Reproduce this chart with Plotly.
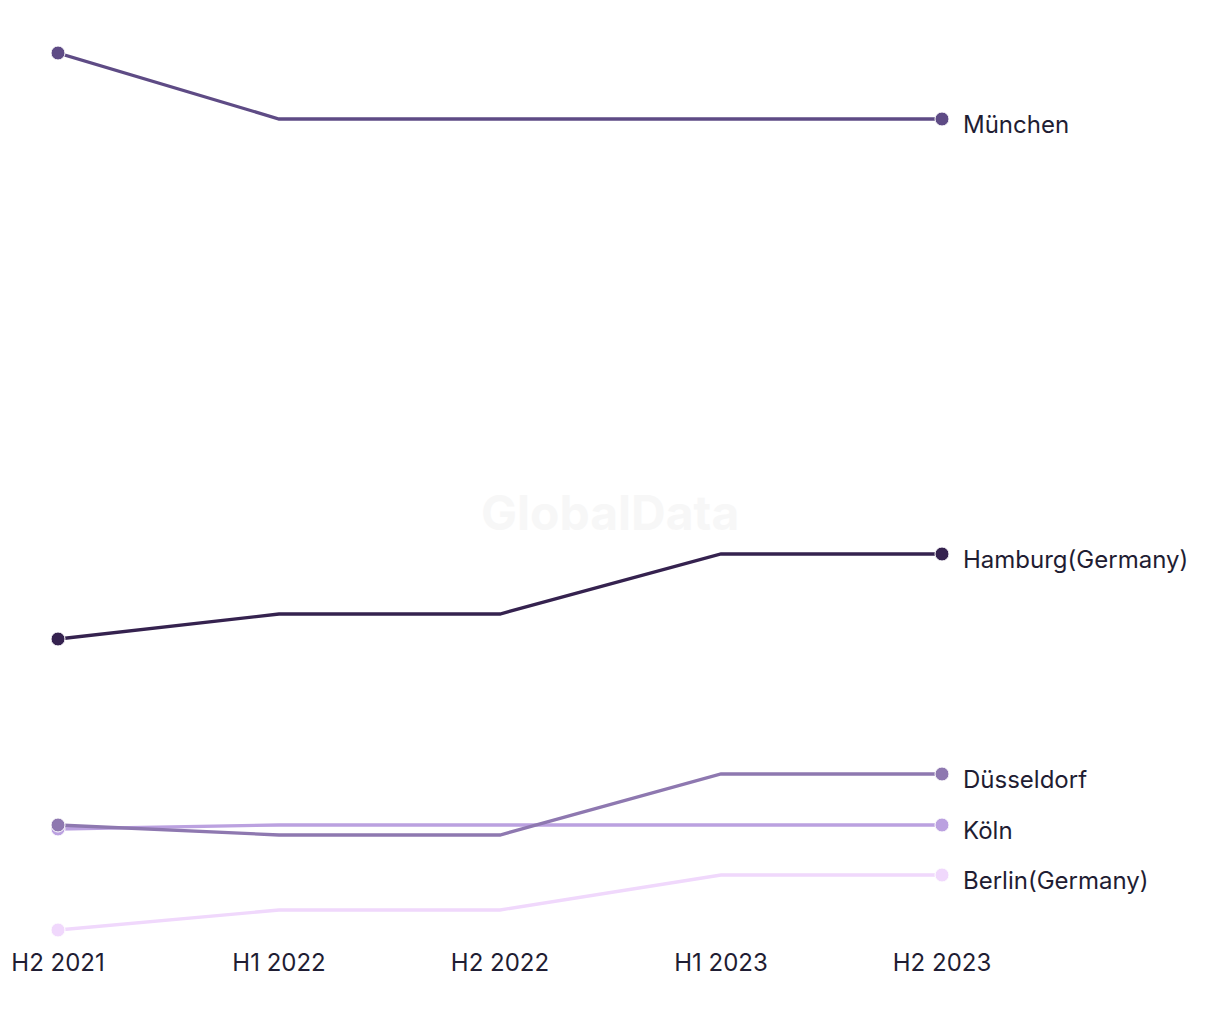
import plotly.graph_objects as go

periods = ["H2 2021", "H1 2022", "H2 2022", "H1 2023", "H2 2023"]
cities = ["Berlin(Germany)", "Köln", "Düsseldorf", "Hamburg(Germany)", "München"]
berlin = [1.0, 3.0, 3.0, 6.5, 6.5]
koeln = [11.1, 11.5, 11.5, 11.5, 11.5]
duesseldorf = [11.5, 10.5, 10.5, 16.6, 16.6]
hamburg = [30.1, 32.6, 32.6, 38.6, 38.6]
muenchen = [88.7, 82.1, 82.1, 82.1, 82.1]
colors = ["#f0d8fc", "#bba1e0", "#8e78b0", "#35224f", "#5e4b85"]

series = [berlin, koeln, duesseldorf, hamburg, muenchen]
xs = list(range(len(periods)))
n = len(xs)
marker_sizes = [14 if i in (0, n - 1) else 0 for i in range(n)]

fig = go.Figure()
for name, vals, col in zip(cities, series, colors):
    fig.add_trace(go.Scatter(
        x=xs, y=vals, mode="lines+markers", name=name,
        line=dict(color=col, width=3.3),
        marker=dict(color=col, size=marker_sizes, opacity=1),
        cliponaxis=False, showlegend=False,
    ))
    fig.add_annotation(
        x=xs[-1], y=vals[-1], text=name, showarrow=False,
        xanchor="left", yanchor="middle", xshift=19, yshift=-5,
        font=dict(family="Inter, Roboto, sans-serif", size=24, color="#1f1d33"),
    )

fig.add_annotation(
    x=0.624, y=0.459, xref="paper", yref="paper", text="<b>GlobalData</b>",
    showarrow=False, font=dict(family="Inter, sans-serif", size=48, color="#f7f7f7"),
)

fig.update_xaxes(
    range=[0, 4], tickvals=xs, ticktext=periods, showgrid=False, zeroline=False,
    showline=False, ticks="", ticklabelstandoff=6,
    tickfont=dict(family="Inter, Roboto, sans-serif", size=24, color="#1f1d33"),
)
fig.update_yaxes(range=[0, 93.2], visible=False, showgrid=False, zeroline=False)

fig.update_layout(
    width=1220, height=1020,
    margin=dict(l=50, r=286, t=0, b=88),
    plot_bgcolor="white", paper_bgcolor="white",
)

fig.write_html("out.html")
